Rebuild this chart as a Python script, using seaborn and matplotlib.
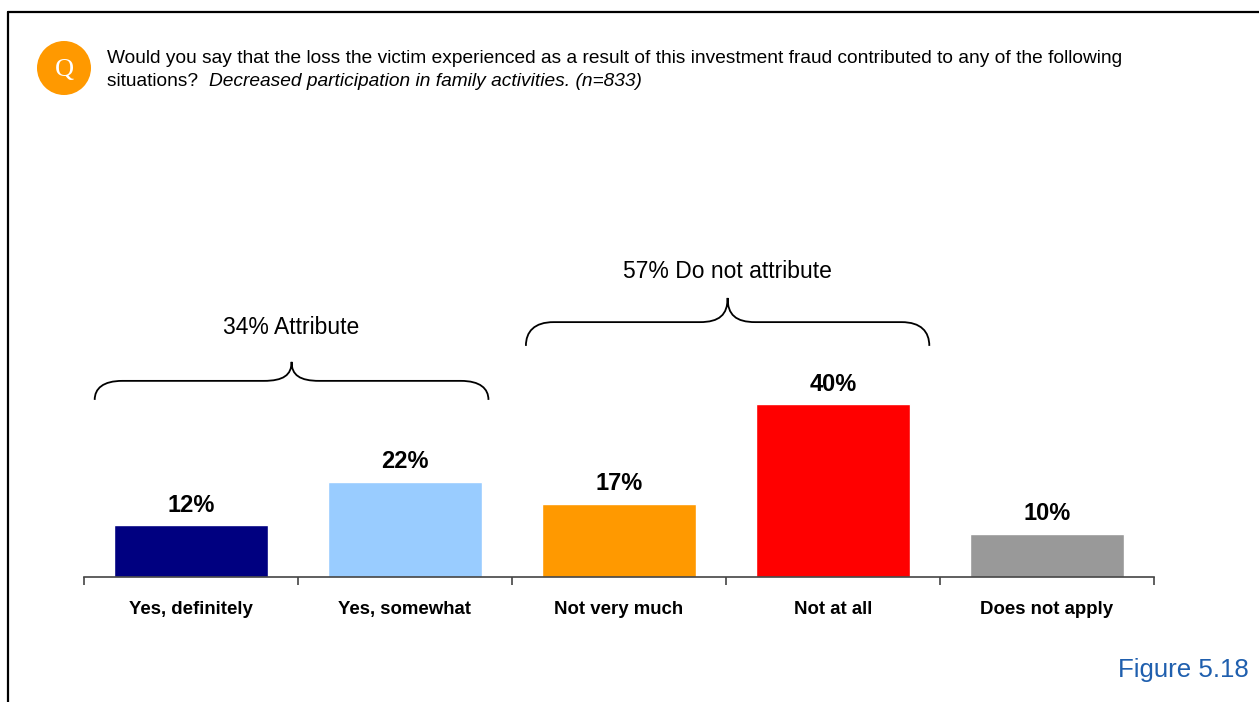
import matplotlib
matplotlib.use("Agg")
import matplotlib.pyplot as plt
import seaborn as sns
import pandas as pd
from matplotlib.patches import Circle, PathPatch
from matplotlib.path import Path
from matplotlib.lines import Line2D

# du lieu doc tu hinh
categories = ["Yes, definitely", "Yes, somewhat", "Not very much", "Not at all", "Does not apply"]
percents = [12, 22, 17, 40, 10]
bar_colors = ["#000080", "#99CCFF", "#FF9900", "#FF0000", "#999999"]
group_labels = ["34% Attribute", "57% Do not attribute"]
group_spans = [(0, 1), (2, 3)]
question = "Would you say that the loss the victim experienced as a result of this investment fraud contributed to any of the following"
question_2 = "situations?  "
question_italic = "Decreased participation in family activities. (n=833)"
figure_label = "Figure 5.18"

sns.set_style("white")
plt.rcParams['font.family'] = ['Liberation Sans', 'DejaVu Sans']
plt.rcParams['text.color'] = 'black'
plt.rcParams['xtick.color'] = '#444444'
plt.rcParams['xtick.labelcolor'] = 'black'

W, H = 1259, 702
fig = plt.figure(figsize=(W / 100, H / 100), dpi=100)
ax = fig.add_axes([84 / W, 125 / H, 1070 / W, 432 / H])

df = pd.DataFrame({"cat": categories, "pct": percents})
sns.barplot(data=df, x="cat", y="pct", hue="cat", palette=bar_colors,
            width=0.715, legend=False, saturation=1, ax=ax)

ax.set_xlim(-0.5, len(categories) - 0.5)
ax.set_ylim(0, 100)
ax.set_xlabel("")
ax.set_ylabel("")
ax.set_yticks([])
for s in ["top", "left", "right"]:
    ax.spines[s].set_visible(False)
ax.spines["bottom"].set_color("#444444")
ax.spines["bottom"].set_linewidth(1.2)
ax.set_xticks([i - 0.5 for i in range(len(categories) + 1)], minor=True)
ax.tick_params(axis="x", which="major", bottom=True, length=0, pad=17, labelsize=13.4)
ax.tick_params(axis="x", which="minor", bottom=True, length=6, width=1.2,
               color="#444444", direction="out")
for lab in ax.get_xticklabels():
    lab.set_fontweight("bold")
    lab.set_color("black")

# nhan gia tri tren cot
for i, v in enumerate(percents):
    ax.text(i, v + 2.0, f"{v}%", ha="center", va="bottom", fontsize=17, fontweight="bold")

# ngoac nhon cho tung nhom
def draw_brace(ax, x0, x1, yb, yl, yt, dx=0.13):
    xm = (x0 + x1) / 2
    verts = [
        (x0, yb),
        (x0, yb + 0.6 * (yl - yb)), (x0 + 0.3 * dx, yl), (x0 + dx, yl),
        (xm - dx, yl),
        (xm - 0.3 * dx, yl), (xm, yl + 0.3 * (yt - yl)), (xm, yt),
        (xm, yl + 0.3 * (yt - yl)), (xm + 0.3 * dx, yl), (xm + dx, yl),
        (x1 - dx, yl),
        (x1 - 0.3 * dx, yl), (x1, yb + 0.6 * (yl - yb)), (x1, yb),
    ]
    codes = [Path.MOVETO,
             Path.CURVE4, Path.CURVE4, Path.CURVE4,
             Path.LINETO,
             Path.CURVE4, Path.CURVE4, Path.CURVE4,
             Path.CURVE4, Path.CURVE4, Path.CURVE4,
             Path.LINETO,
             Path.CURVE4, Path.CURVE4, Path.CURVE4]
    ax.add_patch(PathPatch(Path(verts, codes), fill=False, lw=1.3, color="black", clip_on=False))
    return xm

brace_y = [(41.0, 45.4, 49.8), (53.5, 59.0, 64.6)]
brace_pad = [(-0.45, 0.39), (-0.435, 0.45)]
label_gap = [5.3, 3.4]
for (a, b), lbl, (yb, yl, yt), (pl, pr), gap in zip(group_spans, group_labels, brace_y, brace_pad, label_gap):
    xm = draw_brace(ax, a + pl, b + pr, yb, yl, yt)
    ax.text(xm, yt + gap, lbl, ha="center", va="bottom", fontsize=16.5)

# khung vien
fig.add_artist(Line2D([8 / W, 1], [1 - 12 / H, 1 - 12 / H], color="black", lw=1.6))
fig.add_artist(Line2D([8 / W, 8 / W], [0, 1 - 12 / H], color="black", lw=1.6))

# bieu tuong Q
fig.add_artist(Circle((64 / 100, (H - 68) / 100), 0.27, transform=fig.dpi_scale_trans,
                      color="#FF9900", ec="none"))
fig.text(64 / W, 1 - 70 / H, "Q", ha="center", va="center", color="white",
         fontsize=19, family="Liberation Serif")

# cau hoi
fig.text(107 / W, 1 - 50 / H, question, ha="left", va="top", fontsize=13.75)
t2 = fig.text(107 / W, 1 - 73 / H, question_2, ha="left", va="top", fontsize=13.75)
fig.canvas.draw()
bb = t2.get_window_extent(renderer=fig.canvas.get_renderer())
fig.text(bb.x1 / W, 1 - 73 / H, question_italic, ha="left", va="top",
         fontsize=13.75, style="italic")

fig.text(1249 / W, 1 - 670 / H, figure_label, ha="right", va="center",
         fontsize=18.6, color="#1F5FAE")

plt.savefig("out.png", dpi=100)
plt.close()
